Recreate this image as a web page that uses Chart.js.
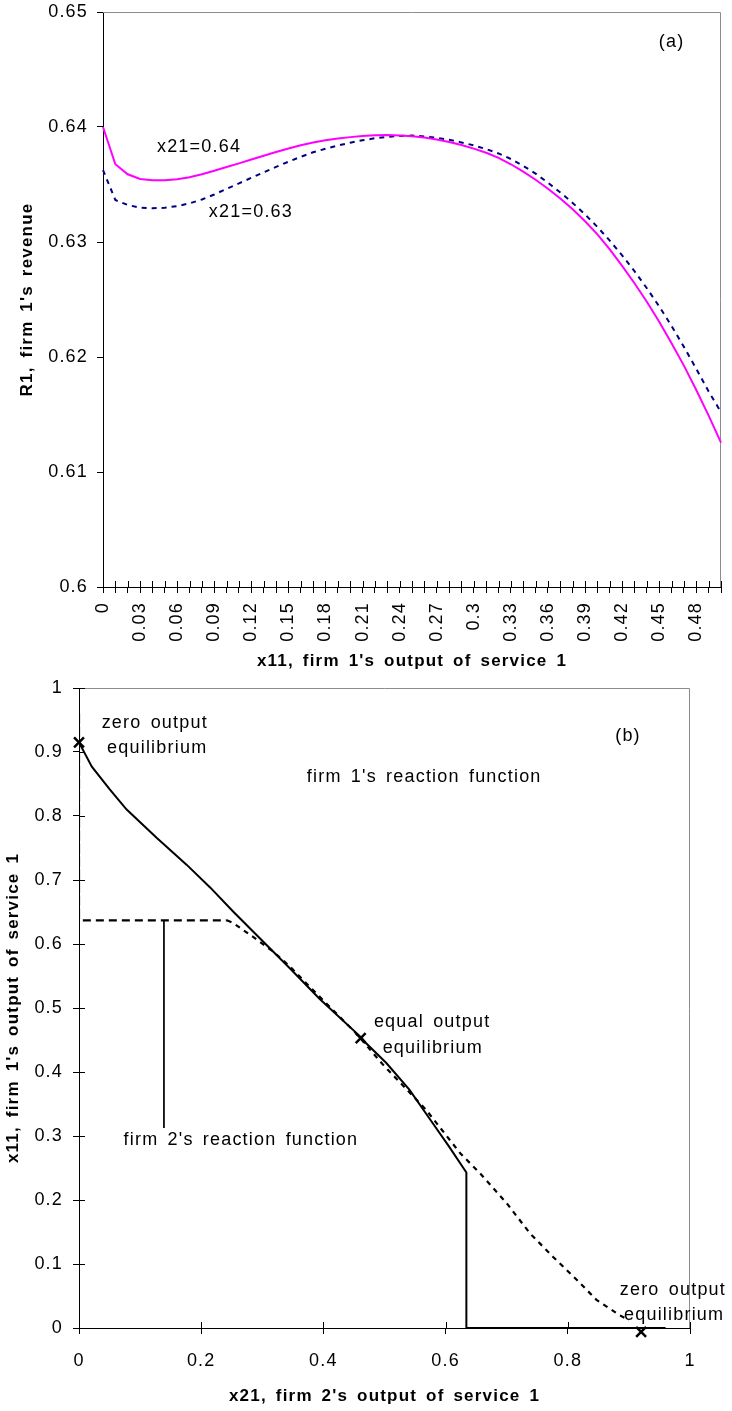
<!DOCTYPE html>
<html>
<head>
<meta charset="utf-8">
<title>Firm 1 revenue and reaction functions</title>
<script src="https://cdn.jsdelivr.net/npm/chart.js@4.4.1/dist/chart.umd.min.js"></script>
<style>
  html, body { margin: 0; padding: 0; background: #fff; }
  body { width: 732px; height: 1411px; position: relative; overflow: hidden; }
  canvas { position: absolute; left: 0; }
  #revChart { top: 0; }
  #reactChart { top: 672px; }
</style>
</head>
<body>
<canvas id="revChart" width="732" height="680"></canvas>
<canvas id="reactChart" width="732" height="739"></canvas>
<script>
// (a) firm 1's revenue against its own output x11
const outputX11 = [
  '0', '0.01', '0.02', '0.03', '0.04', '0.05', '0.06', '0.07', '0.08', '0.09',
  '0.1', '0.11', '0.12', '0.13', '0.14', '0.15', '0.16', '0.17', '0.18', '0.19',
  '0.2', '0.21', '0.22', '0.23', '0.24', '0.25', '0.26', '0.27', '0.28', '0.29',
  '0.3', '0.31', '0.32', '0.33', '0.34', '0.35', '0.36', '0.37', '0.38', '0.39',
  '0.4', '0.41', '0.42', '0.43', '0.44', '0.45', '0.46', '0.47', '0.48', '0.49',
  '0.5'
];
const revenueAt064 = [
  0.64000, 0.63676, 0.63589, 0.63548, 0.63536, 0.63538, 0.63546, 0.63563, 0.63589, 0.63620,
  0.63652, 0.63684, 0.63717, 0.63750, 0.63782, 0.63813, 0.63842, 0.63866, 0.63884, 0.63900,
  0.63912, 0.63922, 0.63928, 0.63930, 0.63927, 0.63920, 0.63908, 0.63891, 0.63869, 0.63843,
  0.63812, 0.63776, 0.63731, 0.63676, 0.63612, 0.63541, 0.63463, 0.63378, 0.63284, 0.63180,
  0.63066, 0.62935, 0.62793, 0.62641, 0.62481, 0.62307, 0.62119, 0.61925, 0.61713, 0.61490,
  0.61255
];
const revenueAt063 = [
  0.63626, 0.63365, 0.63322, 0.63298, 0.63293, 0.63298, 0.63312, 0.63336, 0.63370, 0.63413,
  0.63462, 0.63510, 0.63558, 0.63606, 0.63653, 0.63698, 0.63741, 0.63780, 0.63811, 0.63839,
  0.63863, 0.63885, 0.63902, 0.63915, 0.63922, 0.63925, 0.63918, 0.63906, 0.63889, 0.63866,
  0.63840, 0.63808, 0.63770, 0.63722, 0.63662, 0.63595, 0.63515, 0.63431, 0.63340, 0.63240,
  0.63131, 0.63012, 0.62884, 0.62746, 0.62598, 0.62440, 0.62270, 0.62088, 0.61897, 0.61700,
  0.61520
];
const revenueTicks = [0.6, 0.61, 0.62, 0.63, 0.64, 0.65];

// (b) reaction functions in the (x21, x11) plane
const firm1X = [0, 0.021, 0.050, 0.078, 0.127, 0.176, 0.215, 0.253, 0.300, 0.345, 0.394, 0.463, 0.470, 0.503, 0.541, 0.579, 0.606, 0.634, 0.634, 0.960];
const firm1Y = [0.915, 0.877, 0.842, 0.810, 0.766, 0.724, 0.688, 0.650, 0.605, 0.562, 0.514, 0.453, 0.445, 0.414, 0.372, 0.320, 0.283, 0.243, 0, 0];
const firm2X = [0, 0, 0.242, 0.252, 0.285, 0.318, 0.345, 0.383, 0.453, 0.497, 0.568, 0.624, 0.656, 0.700, 0.738, 0.776, 0.815, 0.847, 0.885, 0.900];
const firm2Y = [0.960, 0.637, 0.637, 0.633, 0.611, 0.588, 0.565, 0.528, 0.461, 0.412, 0.341, 0.273, 0.242, 0.195, 0.148, 0.111, 0.075, 0.044, 0.020, 0.012];
const pointerX = [0.139, 0.139];
const pointerY = [0.637, 0.3125];
const equilibX = [0, 0.461, 0.920];
const equilibY = [0.915, 0.453, -0.006];
const x11Ticks = [0, 0.1, 0.2, 0.3, 0.4, 0.5, 0.6, 0.7, 0.8, 0.9, 1];
const x21Ticks = [0, 0.2, 0.4, 0.6, 0.8, 1];

const FONT = "'Liberation Sans', Arial, Helvetica, sans-serif";
Chart.defaults.font.family = FONT;
Chart.defaults.font.size = 18;
Chart.defaults.color = '#000';

const pairs = (xs, ys) => xs.map((x, i) => ({ x: x, y: ys[i] }));
const fmt = v => String(+(+v).toFixed(2));

// text in the old charts is widely tracked
const spacing = {
  id: 'spacing',
  beforeUpdate(chart) { chart.ctx.letterSpacing = '1.2px'; chart.ctx.wordSpacing = '3px'; },
  beforeDraw(chart) { chart.ctx.letterSpacing = '1.2px'; chart.ctx.wordSpacing = '3px'; }
};

// the plot box is pinned by layout.padding and the axis sizes below,
// so the label overhang the scales ask for is dropped
const pin = size => s => {
  if (s.isHorizontal()) s.height = size; else s.width = size;
  s.paddingTop = s.paddingBottom = s.paddingLeft = s.paddingRight = 0;
};

// grey box edges on top/right, plus tick marks that poke into the plot
const frame = {
  id: 'frame',
  beforeDatasetsDraw(chart, args, opts) {
    const { ctx, chartArea: a } = chart;
    ctx.save();
    ctx.lineWidth = 1;
    ctx.strokeStyle = '#8c8c8c';
    ctx.beginPath();
    ctx.moveTo(a.left, Math.round(a.top) + 0.5);
    ctx.lineTo(Math.round(a.right) - 0.5, Math.round(a.top) + 0.5);
    ctx.lineTo(Math.round(a.right) - 0.5, a.bottom);
    ctx.stroke();
    ctx.strokeStyle = '#000';
    (opts.inner || []).forEach(id => {
      const s = chart.scales[id];
      s.ticks.forEach((t, i) => {
        const p = Math.round(s.getPixelForTick(i)) + 0.5;
        ctx.beginPath();
        if (s.isHorizontal()) {
          ctx.moveTo(p, a.bottom);
          ctx.lineTo(p, a.bottom - 6);
        } else {
          ctx.moveTo(a.left, p);
          ctx.lineTo(a.left + 6, p);
        }
        ctx.stroke();
      });
    });
    ctx.restore();
  }
};

// free text placed in data coordinates
const notes = {
  id: 'notes',
  afterDatasetsDraw(chart, args, opts) {
    const { ctx } = chart;
    const xs = chart.scales.x, ys = chart.scales.y;
    ctx.save();
    ctx.font = '18px ' + FONT;
    ctx.fillStyle = '#000';
    ctx.textAlign = 'center';
    ctx.textBaseline = 'middle';
    (opts.items || []).forEach(n => {
      ctx.fillText(n.text, xs.getPixelForValue(n.x), ys.getPixelForValue(n.y));
    });
    ctx.restore();
  }
};

const axisGrid = { drawOnChartArea: false, drawTicks: true, tickLength: 6, color: '#000' };
const axisBorder = { display: true, color: '#000', width: 1 };
const titleFont = { size: 17, weight: 'bold' };

new Chart(document.getElementById('revChart'), {
  type: 'line',
  data: {
    labels: outputX11,
    datasets: [
      { label: 'x21=0.64', data: revenueAt064, borderColor: '#ff00ff', borderWidth: 2, pointRadius: 0, tension: 0, fill: false },
      { label: 'x21=0.63', data: revenueAt063, borderColor: '#000080', borderWidth: 2, borderDash: [5, 5], pointRadius: 0, tension: 0, fill: false }
    ]
  },
  options: {
    responsive: false,
    animation: false,
    devicePixelRatio: 1,
    layout: { padding: { top: 12, right: 11, left: 0, bottom: 0 } },
    plugins: {
      legend: { display: false },
      tooltip: { enabled: false },
      frame: { inner: ['x'] },
      notes: {
        items: [
          { text: 'x21=0.64', x: 7.77, y: 0.63826 },
          { text: 'x21=0.63', x: 11.97, y: 0.63261 },
          { text: '(a)', x: 46.0, y: 0.64739 }
        ]
      }
    },
    scales: {
      x: {
        grid: axisGrid,
        border: axisBorder,
        ticks: {
          autoSkip: false,
          minRotation: 90,
          maxRotation: 90,
          padding: 9,
          callback: (v, i) => (i % 3 === 0 ? outputX11[i] : '')
        },
        title: { display: true, text: "x11, firm 1's output of service 1", font: titleFont, padding: { top: 0, bottom: 8 } },
        afterFit: pin(93)
      },
      y: {
        min: 0.6,
        max: 0.65,
        afterBuildTicks: s => { s.ticks = revenueTicks.map(v => ({ value: v })); },
        grid: axisGrid,
        border: axisBorder,
        ticks: { padding: 9, callback: fmt },
        title: { display: true, text: "R1, firm 1's revenue", font: titleFont, padding: { top: 17, bottom: 0 } },
        afterFit: pin(103)
      }
    }
  },
  plugins: [spacing, frame, notes]
});

new Chart(document.getElementById('reactChart'), {
  type: 'scatter',
  data: {
    datasets: [
      { label: "firm 1's reaction function", data: pairs(firm1X, firm1Y), showLine: true, borderColor: '#000', borderWidth: 2, pointRadius: 0 },
      {
        label: "firm 2's reaction function", data: pairs(firm2X, firm2Y), showLine: true, borderColor: '#000', borderWidth: 2.2, pointRadius: 0,
        segment: { borderDash: c => (c.p0DataIndex < 2 ? [8, 5] : [5, 5]) }
      },
      { label: 'pointer', data: pairs(pointerX, pointerY), showLine: true, borderColor: '#000', borderWidth: 1, pointRadius: 0 },
      { label: 'equilibria', data: pairs(equilibX, equilibY), showLine: false, pointStyle: 'crossRot', pointRadius: 7, borderColor: '#000', borderWidth: 2.5, clip: false }
    ]
  },
  options: {
    responsive: false,
    animation: false,
    devicePixelRatio: 1,
    layout: { padding: { top: 16, right: 42, left: 0, bottom: 0 } },
    plugins: {
      legend: { display: false },
      tooltip: { enabled: false },
      frame: { inner: ['x', 'y'] },
      notes: {
        items: [
          { text: 'zero output', x: 0.124, y: 0.945 },
          { text: 'equilibrium', x: 0.128, y: 0.906 },
          { text: '(b)', x: 0.8985, y: 0.925 },
          { text: "firm 1's reaction function", x: 0.565, y: 0.861 },
          { text: "firm 2's reaction function", x: 0.265, y: 0.294 },
          { text: 'equal output', x: 0.578, y: 0.478 },
          { text: 'equilibrium', x: 0.579, y: 0.4375 },
          { text: 'zero output', x: 0.972, y: 0.059 },
          { text: 'equilibrium', x: 0.974, y: 0.020 }
        ]
      }
    },
    scales: {
      x: {
        type: 'linear',
        min: 0,
        max: 1,
        afterBuildTicks: s => { s.ticks = x21Ticks.map(v => ({ value: v })); },
        grid: axisGrid,
        border: axisBorder,
        ticks: { padding: 16, callback: fmt },
        title: { display: true, text: "x21, firm 2's output of service 1", font: titleFont, padding: { top: 0, bottom: 4 } },
        afterFit: pin(83)
      },
      y: {
        min: 0,
        max: 1,
        afterBuildTicks: s => { s.ticks = x11Ticks.map(v => ({ value: v })); },
        grid: axisGrid,
        border: axisBorder,
        ticks: { padding: 10, callback: fmt },
        title: { display: true, text: "x11, firm 1's output of service 1", font: titleFont, padding: { top: 3, bottom: 0 } },
        afterFit: pin(79)
      }
    }
  },
  plugins: [spacing, frame, notes]
});
</script>
</body>
</html>
